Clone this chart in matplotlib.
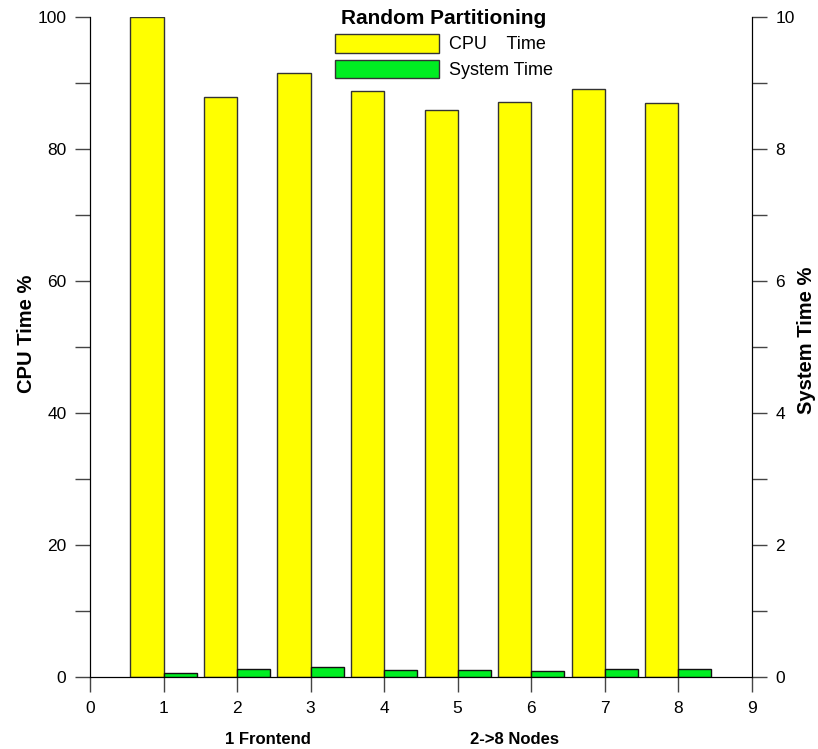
import matplotlib
matplotlib.use('Agg')
import matplotlib.pyplot as plt
import matplotlib.ticker as ticker
from matplotlib.patches import Patch

plt.rcParams['font.family'] = ['Liberation Sans', 'DejaVu Sans']

# data
nodes = [1, 2, 3, 4, 5, 6, 7, 8]
cpu_time = [100.0, 87.9, 91.5, 88.9, 85.9, 87.2, 89.2, 87.0]      # left axis, %
system_time = [0.07, 0.12, 0.15, 0.11, 0.11, 0.10, 0.12, 0.12]    # right axis, %
bar_w = 0.45

fig = plt.figure(figsize=(8.18, 7.49), dpi=100)
ax = fig.add_axes([90/818, (749-677.3)/749, (751.7-90)/818, (677.3-17.3)/749])
ax2 = ax.twinx()

ax.bar(nodes, cpu_time, width=-bar_w, align='edge', color='#ffff00',
       edgecolor='#333333', linewidth=1)
ax2.bar(nodes, system_time, width=bar_w, align='edge', color='#00ee22',
        edgecolor='#111111', linewidth=1)

ax.set_xlim(0, 9)
ax.set_ylim(0, 100)
ax2.set_ylim(0, 10)

ax.xaxis.set_major_locator(ticker.MultipleLocator(1))
ax.yaxis.set_major_locator(ticker.MultipleLocator(20))
ax.yaxis.set_minor_locator(ticker.MultipleLocator(10))
ax2.yaxis.set_major_locator(ticker.MultipleLocator(2))
ax2.yaxis.set_minor_locator(ticker.MultipleLocator(1))

for a in (ax, ax2):
    a.spines['top'].set_visible(False)
    a.tick_params(which='both', direction='out', length=11, width=1,
                  color='#444444', labelsize=12.5, pad=6)

ax.set_ylabel('CPU Time %', fontsize=14.5, fontweight='bold')
ax.yaxis.set_label_coords(-0.082, 0.52)
ax2.set_ylabel('System Time %', fontsize=14.5, fontweight='bold')
ax2.yaxis.set_label_coords(1.068, 0.51)

fig.text(268/818, 1 - 740/749, '1 Frontend', ha='center', va='center',
         fontsize=12, fontweight='bold')
fig.text(515/818, 1 - 740/749, '2->8 Nodes', ha='center', va='center',
         fontsize=12, fontweight='bold')

handles = [Patch(facecolor='#ffff00', edgecolor='#333333', label='CPU    Time'),
           Patch(facecolor='#00ee22', edgecolor='#333333', label='System Time')]
leg = ax2.legend(handles=handles, title='Random Partitioning', loc='upper center',
                 bbox_to_anchor=(0.535, 1.032), frameon=False, fontsize=13,
                 handlelength=5.8, handleheight=1.2, handletextpad=0.55,
                 labelspacing=0.35, borderpad=0.2,
                 title_fontproperties={'weight': 'bold', 'size': 15})

fig.savefig('out.png', dpi=100)
